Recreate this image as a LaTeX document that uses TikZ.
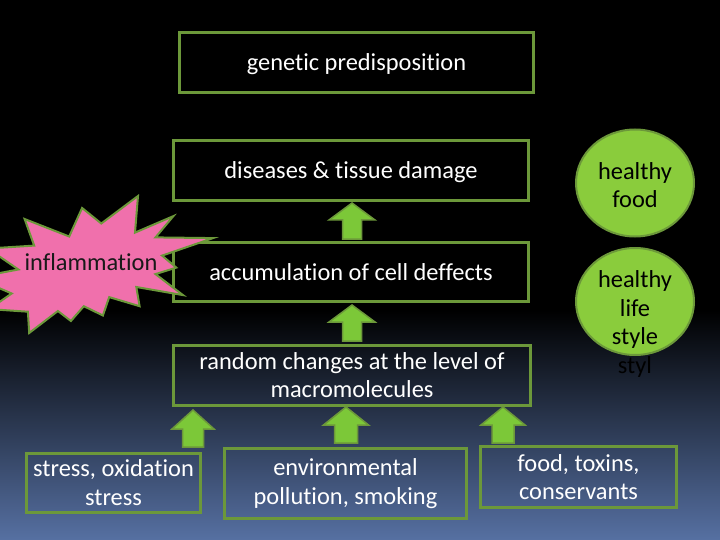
\documentclass[tikz,border=0pt]{standalone}
\usepackage{fontspec}
\setmainfont{Carlito}[RawFeature={-liga;-clig}]
\usetikzlibrary{shapes.geometric}
\definecolor{bordergreen}{RGB}{108,152,58}
\definecolor{arrowgreen}{RGB}{124,200,56}
\definecolor{circlegreen}{RGB}{138,204,60}
\definecolor{pinkfill}{RGB}{240,112,172}
\definecolor{bgmid}{RGB}{34,44,66}
\definecolor{bgbottom}{RGB}{86,112,162}
\newcommand\blockup[6]{%
  \filldraw[arrowshape] (#1,#2) -- (#1+#5,#3) -- (#1+#6,#3) -- (#1+#6,#4) -- (#1-#6,#4) -- (#1-#6,#3) -- (#1-#5,#3) -- cycle;}
\begin{document}
\begin{tikzpicture}[x=1pt,y=-1pt,
  txt/.style={font=\fontsize{24.4}{28.7}\selectfont, align=center},
  box/.style={txt, draw=bordergreen, line width=3pt, text=white, inner sep=0pt},
  oneline/.style={text height=16.5pt, text depth=0pt},
  arrowshape/.style={fill=arrowgreen, draw=bordergreen, line width=1.5pt, line join=miter},
  bubble/.style={ellipse, fill=circlegreen, draw=bordergreen, line width=2pt, inner sep=0pt},
  burst/.style={fill=pinkfill, draw=bordergreen, line width=2pt, line join=miter}]
\useasboundingbox (0,0) rectangle (720,540);
\clip (0,0) rectangle (720,540);
% background
\fill[black] (0,0) rectangle (720,311);
\shade[top color=black, middle color=bgmid, bottom color=bgbottom] (0,310) rectangle (720,540);
% main boxes
\node[box, oneline, minimum width=354, minimum height=60] (gen) at (356.5,62.5) {genetic predisposition};
\node[box, oneline, minimum width=355, minimum height=60] (dis) at (351,170.5) {diseases \& tissue damage};
\node[box, oneline, minimum width=355, minimum height=59] (acc) at (351,272) {accumulation of cell deffects};
\node[box, minimum width=357, minimum height=60] (rnd) at (352,375) {random changes at the level of\\macromolecules};
% bottom boxes
\node[box, minimum width=174, minimum height=59] (str) at (113.5,482.5) {stress, oxidation\\stress};
\node[box, minimum width=242, minimum height=70] (env) at (345.5,483.5) {environmental\\pollution, smoking};
\node[box, minimum width=196, minimum height=61] (fod) at (578.5,477) {food, toxins,\\conservants};
% block arrows
\blockup{352}{203}{220}{239}{23}{9.5}
\blockup{352}{305}{322}{341}{23}{9.5}
\blockup{193}{410}{429}{447}{21}{10.5}
\blockup{346}{407}{425}{443}{22.5}{11.5}
\blockup{503}{407}{425}{443}{22}{11}
% circles
\node[bubble, minimum width=118, minimum height=107] (hf) at (635,183) {};
\node[txt, text=black] (hft) at (635,185) {healthy\\food};
\node[bubble, minimum width=118, minimum height=107] (hl) at (635,301.5) {};
\node[txt, text=black] (hlt) at (635,309.5) {healthy\\life\\style};
\node[txt, text=black] (styl) at (635,367) {styl};
% starburst
\draw[burst] (101.3,223.5) -- (138.0,196) -- (135.0,232.6) -- (173.4,216.1) -- (155.5,237.4)
  -- (213,238.1) -- (162.1,255.6) -- (176.3,267.6) -- (155.5,274.1) -- (183.0,295.1)
  -- (136.3,287.0) -- (139.6,306.2) -- (109.2,297.1) -- (102.9,315.5) -- (83.8,306.2)
  -- (70.9,321.0) -- (57.9,311.0) -- (29.2,333) -- (27.9,311.7) -- (-10.8,309.1)
  -- (11.7,293.5) -- (-25,277.7) -- (18.4,269.5) -- (-12.1,248.5) -- (34.2,245.6)
  -- (24.6,219.0) -- (69.2,236.5) -- (82.1,208.0) -- cycle;
\node[txt, text=black!90] (infl) at (91,262) {inflammation};
\end{tikzpicture}
\end{document}
